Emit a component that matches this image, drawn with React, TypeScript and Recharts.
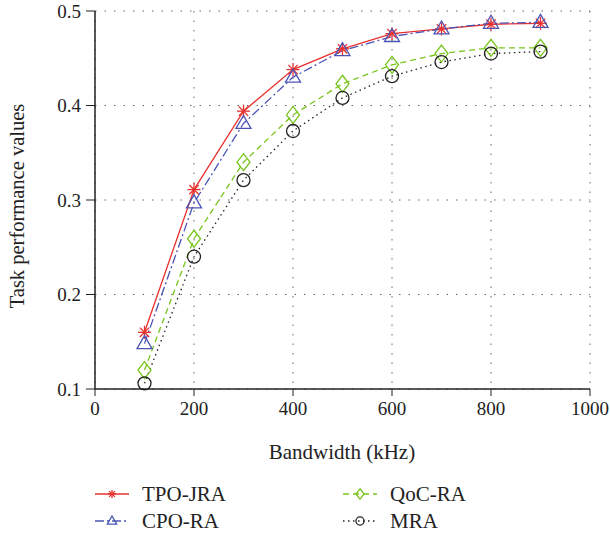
import { LineChart, Line, XAxis, YAxis, CartesianGrid, Label } from "recharts"

const bandwidth = [100, 200, 300, 400, 500, 600, 700, 800, 900]
const tpoJra = [0.16, 0.311, 0.394, 0.438, 0.46, 0.476, 0.481, 0.486, 0.487]
const cpoRa = [0.148, 0.297, 0.381, 0.43, 0.458, 0.473, 0.481, 0.487, 0.488]
const qocRa = [0.12, 0.259, 0.34, 0.39, 0.423, 0.443, 0.455, 0.461, 0.461]
const mra = [0.106, 0.24, 0.321, 0.373, 0.408, 0.431, 0.446, 0.455, 0.457]

const xTicks = [0, 200, 400, 600, 800, 1000]
const yTicks = [0.1, 0.2, 0.3, 0.4, 0.5]

const series = [
  { key: "tpo", name: "TPO-JRA", values: tpoJra, color: "#e8312e", dash: undefined, marker: "star" },
  { key: "cpo", name: "CPO-RA", values: cpoRa, color: "#4b54b5", dash: "9 3 2 3", marker: "triangle" },
  { key: "qoc", name: "QoC-RA", values: qocRa, color: "#78c51c", dash: "6 4", marker: "diamond" },
  { key: "mra", name: "MRA", values: mra, color: "#222222", dash: "1.5 3.5", marker: "circle" },
]

const data = bandwidth.map((bw, i) => {
  const row: Record<string, number> = { bw }
  series.forEach((s) => (row[s.key] = s.values[i]))
  return row
})

const FONT = "'Liberation Serif', 'DejaVu Serif', serif"

function Marker({ kind, cx, cy, color, s = 1 }: { kind: string; cx: number; cy: number; color: string; s?: number }) {
  const sw = 1.3
  if (kind === "star") {
    const r = 6.5 * s
    const d = r * 0.72
    return (
      <g stroke={color} strokeWidth={sw} fill="none">
        <line x1={cx - r} y1={cy} x2={cx + r} y2={cy} />
        <line x1={cx} y1={cy - r} x2={cx} y2={cy + r} />
        <line x1={cx - d} y1={cy - d} x2={cx + d} y2={cy + d} />
        <line x1={cx - d} y1={cy + d} x2={cx + d} y2={cy - d} />
      </g>
    )
  }
  if (kind === "triangle") {
    const w = 7.5 * s
    return (
      <polygon
        points={`${cx},${cy - 8 * s} ${cx - w},${cy + 5 * s} ${cx + w},${cy + 5 * s}`}
        stroke={color}
        strokeWidth={sw}
        fill="none"
      />
    )
  }
  if (kind === "diamond") {
    const w = 6.5 * s
    const h = 8.5 * s
    return (
      <polygon
        points={`${cx},${cy - h} ${cx + w},${cy} ${cx},${cy + h} ${cx - w},${cy}`}
        stroke={color}
        strokeWidth={sw}
        fill="none"
      />
    )
  }
  return <circle cx={cx} cy={cy} r={6.5 * s} stroke={color} strokeWidth={sw} fill="none" />
}

function ChartLegend() {
  const cols = [95, 343]
  const rows = [494, 521]
  return (
    <svg width={610} height={537} style={{ position: "absolute", left: 0, top: 0, pointerEvents: "none" }}>
      {series.map((s, i) => {
        const x0 = cols[Math.floor(i / 2)]
        const y = rows[i % 2]
        return (
          <g key={s.key}>
            <line x1={x0} y1={y} x2={x0 + 34} y2={y} stroke={s.color} strokeWidth={1.3} strokeDasharray={s.dash} />
            <Marker kind={s.marker} cx={x0 + 17} cy={y} color={s.color} s={0.62} />
            <text x={x0 + 47} y={y} dominantBaseline="central" fontFamily={FONT} fontSize={21} fill="#222">
              {s.name}
            </text>
          </g>
        )
      })}
    </svg>
  )
}

export default function App() {
  const tickStyle = { fontFamily: FONT, fontSize: 19, fill: "#222" }
  return (
    <div style={{ position: "absolute", left: 0, top: 0, width: 610, height: 537, background: "#fff" }}>
      <LineChart width={610} height={537} data={data} margin={{ top: 11, right: 20, bottom: 118, left: 0 }}>
        <CartesianGrid stroke="#666" strokeDasharray="1.5 8" />
        <XAxis
          dataKey="bw"
          type="number"
          domain={[0, 1000]}
          ticks={xTicks}
          height={30}
          tick={tickStyle}
          tickSize={7}
          tickMargin={6}
          axisLine={{ stroke: "#222", strokeWidth: 1.5 }}
          tickLine={{ stroke: "#222" }}
        >
          <Label
            content={() => (
              <text x={342} y={452} textAnchor="middle" dominantBaseline="central" fontFamily={FONT} fontSize={21} fill="#222">
                Bandwidth (kHz)
              </text>
            )}
          />
        </XAxis>
        <XAxis
          xAxisId="top"
          orientation="top"
          type="number"
          domain={[0, 1000]}
          height={0}
          tick={false}
          tickLine={false}
          axisLine={{ stroke: "#222", strokeWidth: 1.5 }}
        />
        <YAxis
          type="number"
          domain={[0.1, 0.5]}
          ticks={yTicks}
          width={95}
          tick={tickStyle}
          tickSize={9}
          tickMargin={5}
          tickFormatter={(v: number) => v.toFixed(1)}
          axisLine={{ stroke: "#222", strokeWidth: 1.5 }}
          tickLine={{ stroke: "#222" }}
        >
          <Label
            content={() => (
              <text
                x={17}
                y={206}
                transform="rotate(-90 17 206)"
                textAnchor="middle"
                dominantBaseline="central"
                fontFamily={FONT}
                fontSize={20.5}
                fill="#222"
              >
                Task performance values
              </text>
            )}
          />
        </YAxis>
        <YAxis
          yAxisId="right"
          orientation="right"
          domain={[0.1, 0.5]}
          width={0}
          tick={false}
          tickLine={false}
          axisLine={{ stroke: "#222", strokeWidth: 1.5 }}
        />
        {series.map((s) => (
          <Line
            key={s.key}
            dataKey={s.key}
            name={s.name}
            type="linear"
            stroke={s.color}
            strokeWidth={1.3}
            strokeDasharray={s.dash}
            isAnimationActive={false}
            dot={(p: any) => <Marker key={`${s.key}-${p.index}`} kind={s.marker} cx={p.cx} cy={p.cy} color={s.color} />}
            activeDot={false}
          />
        ))}
      </LineChart>
      <ChartLegend />
    </div>
  )
}
